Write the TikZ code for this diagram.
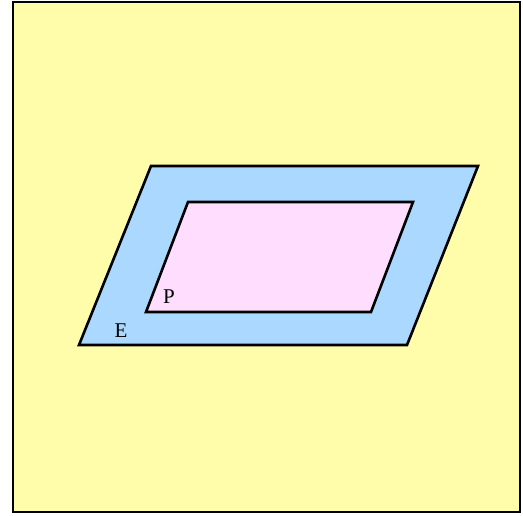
\documentclass[tikz,border=0pt]{standalone}
\usepackage{fontspec}
\setmainfont{Liberation Serif}
\definecolor{bgyellow}{HTML}{FFFCAA}
\definecolor{eblue}{HTML}{AAD8FF}
\definecolor{ppink}{HTML}{FFDDFF}
\begin{document}
\begin{tikzpicture}[x=1pt,y=-1pt,
  regionshape/.style={draw=black,line width=2.6pt,line join=miter},
  lbl/.style={font=\fontsize{21}{21}\selectfont,inner sep=0pt}]
\useasboundingbox (0,0) rectangle (523,516);
\draw[regionshape,fill=bgyellow,line width=2pt] (12.5,2) rectangle (520,512);
\draw[regionshape,fill=eblue] (151,166) -- (478,166) -- (407,345) -- (79,345) -- cycle;
\draw[regionshape,fill=ppink] (188,202) -- (413,202) -- (371,312) -- (146,312) -- cycle;
\node[lbl] (P) at (169,297) {P};
\node[lbl] (E) at (121,331) {E};
\end{tikzpicture}
\end{document}
